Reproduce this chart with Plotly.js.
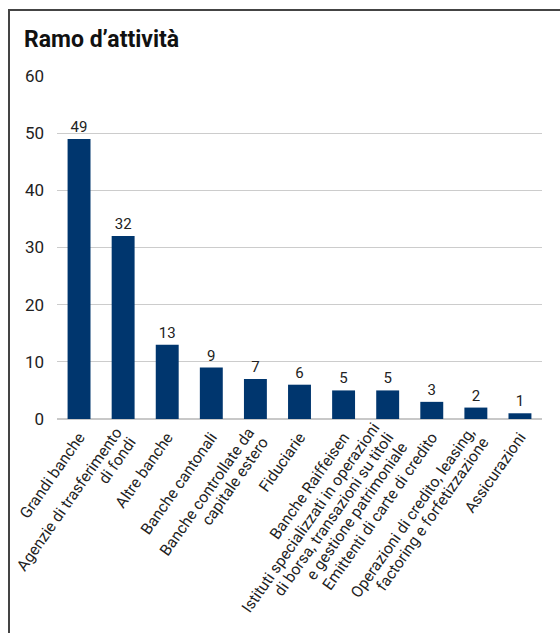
<!DOCTYPE html>
<html>
<head>
<meta charset="utf-8">
<script src="https://cdn.plot.ly/plotly-3.0.1.min.js"></script>
<style>
html,body{margin:0;padding:0;background:#fff;}
#wrap{position:relative;width:560px;height:633px;overflow:hidden;}
#chart{position:absolute;left:0;top:0;width:560px;height:633px;}
#frame{position:absolute;left:8px;top:9px;width:600px;height:700px;border-top:2px solid #444;border-left:2px solid #444;pointer-events:none;}
</style>
</head>
<body>
<div id="wrap">
<div id="chart"></div>
<div id="frame"></div>
</div>
<script>
var categories = [
  "Grandi banche",
  "Agenzie di trasferimento<br>di fondi",
  "Altre banche",
  "Banche cantonali",
  "Banche controllate da<br>capitale estero",
  "Fiduciarie",
  "Banche Raiffeisen",
  "Istituti specializzati in operazioni<br>di borsa, transazioni su titoli<br>e gestione patrimoniale",
  "Emittenti di carte di credito",
  "Operazioni di credito, leasing,<br>factoring e forfetizzazione",
  "Assicurazioni"
];
var values = [49, 32, 13, 9, 7, 6, 5, 5, 3, 2, 1];
var yTicks = [0, 10, 20, 30, 40, 50, 60];

var font = "Roboto, 'Noto Sans', sans-serif";
var labelSize = 15.7;
var lineSpacing = 1.08;

var trace = {
  type: "bar",
  x: categories,
  y: values,
  marker: {color: "#00366e"},
  text: values.map(String),
  textposition: "outside",
  textfont: {family: font, size: 15, color: "#222"},
  cliponaxis: false,
  hoverinfo: "skip"
};
var layout = {
  width: 560, height: 633,
  margin: {l: 57, r: 18, t: 76, b: 214, pad: 0},
  paper_bgcolor: "#fff", plot_bgcolor: "#fff",
  showlegend: false,
  bargap: 0.48,
  font: {family: font, color: "#222"},
  title: {
    text: "<b>Ramo d’attività</b>",
    font: {family: font, size: 23, color: "#111"},
    x: 24/560, xref: "container", xanchor: "left",
    y: 1 - 39/633, yref: "container", yanchor: "middle"
  },
  xaxis: {
    type: "category",
    tickangle: -55,
    tickfont: {family: font, size: labelSize, color: "#222"},
    showgrid: false, zeroline: false, showline: false,
    ticks: "", ticklabelstandoff: 5
  },
  yaxis: {
    range: [0, 60],
    tickvals: yTicks,
    ticktext: yTicks.map(String),
    tickfont: {family: font, size: 17, color: "#222"},
    showgrid: true, gridcolor: "#cccccc", gridwidth: 1,
    zeroline: true, zerolinecolor: "#c8c8c8", zerolinewidth: 2,
    showline: false, ticks: "", ticklabelstandoff: 12
  }
};
Plotly.newPlot("chart", [trace], layout, {displayModeBar: false, staticPlot: true}).then(function (gd) {
  // centre multi-line category labels on their tick, with tighter line spacing
  var texts = gd.querySelectorAll("g.xtick text");
  texts.forEach(function (t) {
    var lines = t.querySelectorAll("tspan.line");
    var n = lines.length;
    if (n > 1) {
      lines.forEach(function (ln, i) { ln.setAttribute("dy", (i * lineSpacing) + "em"); });
      var tr = t.getAttribute("transform") || "";
      t.setAttribute("transform", tr + " translate(0," + (-(n - 1) * lineSpacing * labelSize / 2) + ")");
    }
  });
});
</script>
</body>
</html>
